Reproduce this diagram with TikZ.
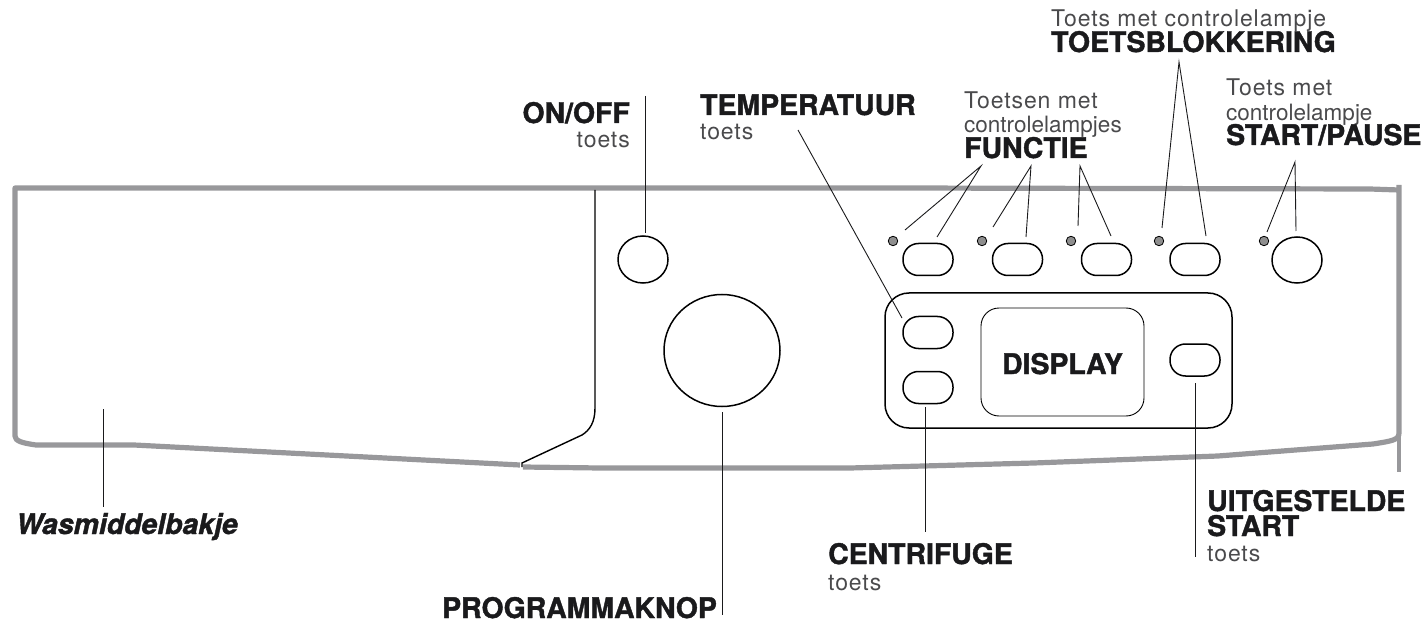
\documentclass[tikz,border=0pt]{standalone}
\usepackage{fontspec}
\setmainfont{TeX Gyre Heros}
\newfontfamily\blk[BoldFeatures={FakeBold=1.4},BoldItalicFeatures={FakeBold=1.4}]{TeX Gyre Heros}
\definecolor{edge}{HTML}{98989B}
\definecolor{ink}{HTML}{1A1A1C}
\definecolor{soft}{HTML}{4A4A4C}
\definecolor{lamp}{HTML}{8E8E8E}
\usetikzlibrary{shapes.geometric}
\tikzset{
  px/.style={x=1pt,y=-1pt},
  rim/.style={draw=edge,line width=5.2pt,line join=round},
  outline/.style={draw=black,line width=1.5pt},
  pill/.style={outline,shape=rectangle,rounded corners=15.5pt,minimum width=50pt,minimum height=32pt,inner sep=0pt},
  rbtn/.style={outline,shape=ellipse,inner sep=0pt},
  led/.style={draw=black,line width=0.8pt,fill=lamp,shape=circle,minimum size=9.5pt,inner sep=0pt},
  leader/.style={draw=ink,line width=0.9pt},
  hd/.style={anchor=base west,inner sep=0pt,font=\blk\bfseries\fontsize{28.4}{28.4}\selectfont,text=ink},
  hdr/.style={hd,anchor=base east},
  sub/.style={anchor=base west,inner sep=0pt,font=\fontsize{22.5}{22.5}\selectfont,text=soft},
  subs/.style={sub,font=\fontsize{23}{23}\selectfont\addfontfeature{LetterSpace=4}},
  subr/.style={subs,anchor=base east},
}
\begin{document}
\begin{tikzpicture}[px]
\useasboundingbox (0,0) rectangle (1428,631);
% rim
\draw[rim] (1399,185) -- (1399,433) .. controls (1399,440) and (1392,441) .. (1373,444)
  -- (1218,456) -- (1034,463) -- (850,468) -- (600,468) -- (523,467);
\draw[rim] (1399,190) -- (1370,189) -- (900,188) -- (15,188) -- (15,436) .. controls (15,441) and (22,443) .. (36,445)
  -- (134,445) -- (520,465);
\draw[draw=edge,line width=3.6pt] (1399,435) -- (1399,472);
% door divider
\coordinate (dTop) at (595,190);
\coordinate (dFoot) at (522,467);
\draw[draw=black,line width=1.4pt] (dTop) -- (595,408) .. controls (595,422) and (590,430) .. (582,435)
  -- (522,463) -- (dFoot);
% panel
\node[outline,shape=rectangle,rounded corners=24pt,minimum width=347pt,minimum height=135pt,inner sep=0pt] (panel) at (1058.5,360.5) {};
\node[draw=black,line width=0.9pt,shape=rectangle,rounded corners=18pt,minimum width=163pt,minimum height=108pt,inner sep=0pt] (display) at (1062.5,362) {};
\node[anchor=base,inner sep=0pt,font=\blk\bfseries\fontsize{28.4}{28.4}\selectfont,text=ink] (displaytext) at (1062.5,374) {DISPLAY};
% controls
\node[rbtn,minimum width=50pt,minimum height=47pt] (onoff) at (643,259.5) {};
\node[rbtn,minimum width=116pt,minimum height=112pt] (prog) at (722,350.5) {};
\node[pill] (f1) at (928,259.5) {};
\node[pill] (f2) at (1017.5,259.5) {};
\node[pill] (f3) at (1106.5,259.5) {};
\node[pill] (f4) at (1195,259.5) {};
\node[rbtn,minimum width=50pt,minimum height=46pt] (sp) at (1297,260) {};
\node[led] (l1) at (893,241) {};
\node[led] (l2) at (982,241) {};
\node[led] (l3) at (1071,241) {};
\node[led] (l4) at (1159,241) {};
\node[led] (l5) at (1264,241) {};
\node[pill] (temp) at (928,332.5) {};
\node[pill] (cent) at (928,387.5) {};
\node[pill] (uit) at (1195,360) {};
% labels
\node[hd] (tTB) at (1051,52) {TOETSBLOKKERING};
\node[subs] (tTBs) at (1051,27) {Toets met controlelampje};
\node[subs] (tF1) at (964,109) {Toetsen met};
\node[sub] (tF2) at (964,133) {controlelampjes};
\node[hd] (tF) at (964,158) {FUNCTIE};
\node[subs] (tS1) at (1226,96) {Toets met};
\node[sub] (tS2) at (1226,121) {controlelampje};
\node[hd] (tS) at (1226,145) {START/PAUSE};
\node[hdr] (tOn) at (630,123) {ON/OFF};
\node[subr] (tOns) at (630,148) {toets};
\node[hd] (tT) at (700,115) {TEMPERATUUR};
\node[subs] (tTs) at (700,140) {toets};
\node[hd] (tC) at (828,564) {CENTRIFUGE};
\node[subs] (tCs) at (828,590) {toets};
\node[hd] (tU1) at (1207,511) {UITGESTELDE};
\node[hd] (tU2) at (1207,536) {START};
\node[subs] (tUs) at (1207,561) {toets};
\node[hd] (tP) at (442,618) {PROGRAMMAKNOP};
\node[anchor=base west,inner sep=0pt,font=\blk\bfseries\itshape\fontsize{28.4}{28.4}\selectfont,text=ink] (tW) at (16,534) {Wasmiddelbakje};
% leaders
\foreach \n/\x/\y in {a1/981/166,a2/1031/166,a3/1080/166,a4/1179/62,a5/1295/162,
  e1/905/230,e2/937/237,e3/993/227,e4/1026/237,e5/1078/226,e6/1111/236,e7/1162/228,e8/1206/236,e9/1267/232,e10/1296/231,
  bOn/645/96,eOn/645/233,bT/798/130,eT/902/318,bC/925.5/407,eC/925.5/532,bU/1195/383,eU/1195/557,bP/722/412,eP/722/615,bW/103.5/409,eW/103.5/507}
  {\coordinate (\n) at (\x,\y);}
\draw[leader] (e1) -- (a1) -- (e2);
\draw[leader] (e3) -- (a2) -- (e4);
\draw[leader] (e5) -- (a3) -- (e6);
\draw[leader] (e7) -- (a4) -- (e8);
\draw[leader] (e9) -- (a5) -- (e10);
\draw[leader] (bOn) -- (eOn);
\draw[leader] (bT) -- (eT);
\draw[leader] (bC) -- (eC);
\draw[leader] (bU) -- (eU);
\draw[leader] (bP) -- (eP);
\draw[leader] (bW) -- (eW);
\end{tikzpicture}
\end{document}
